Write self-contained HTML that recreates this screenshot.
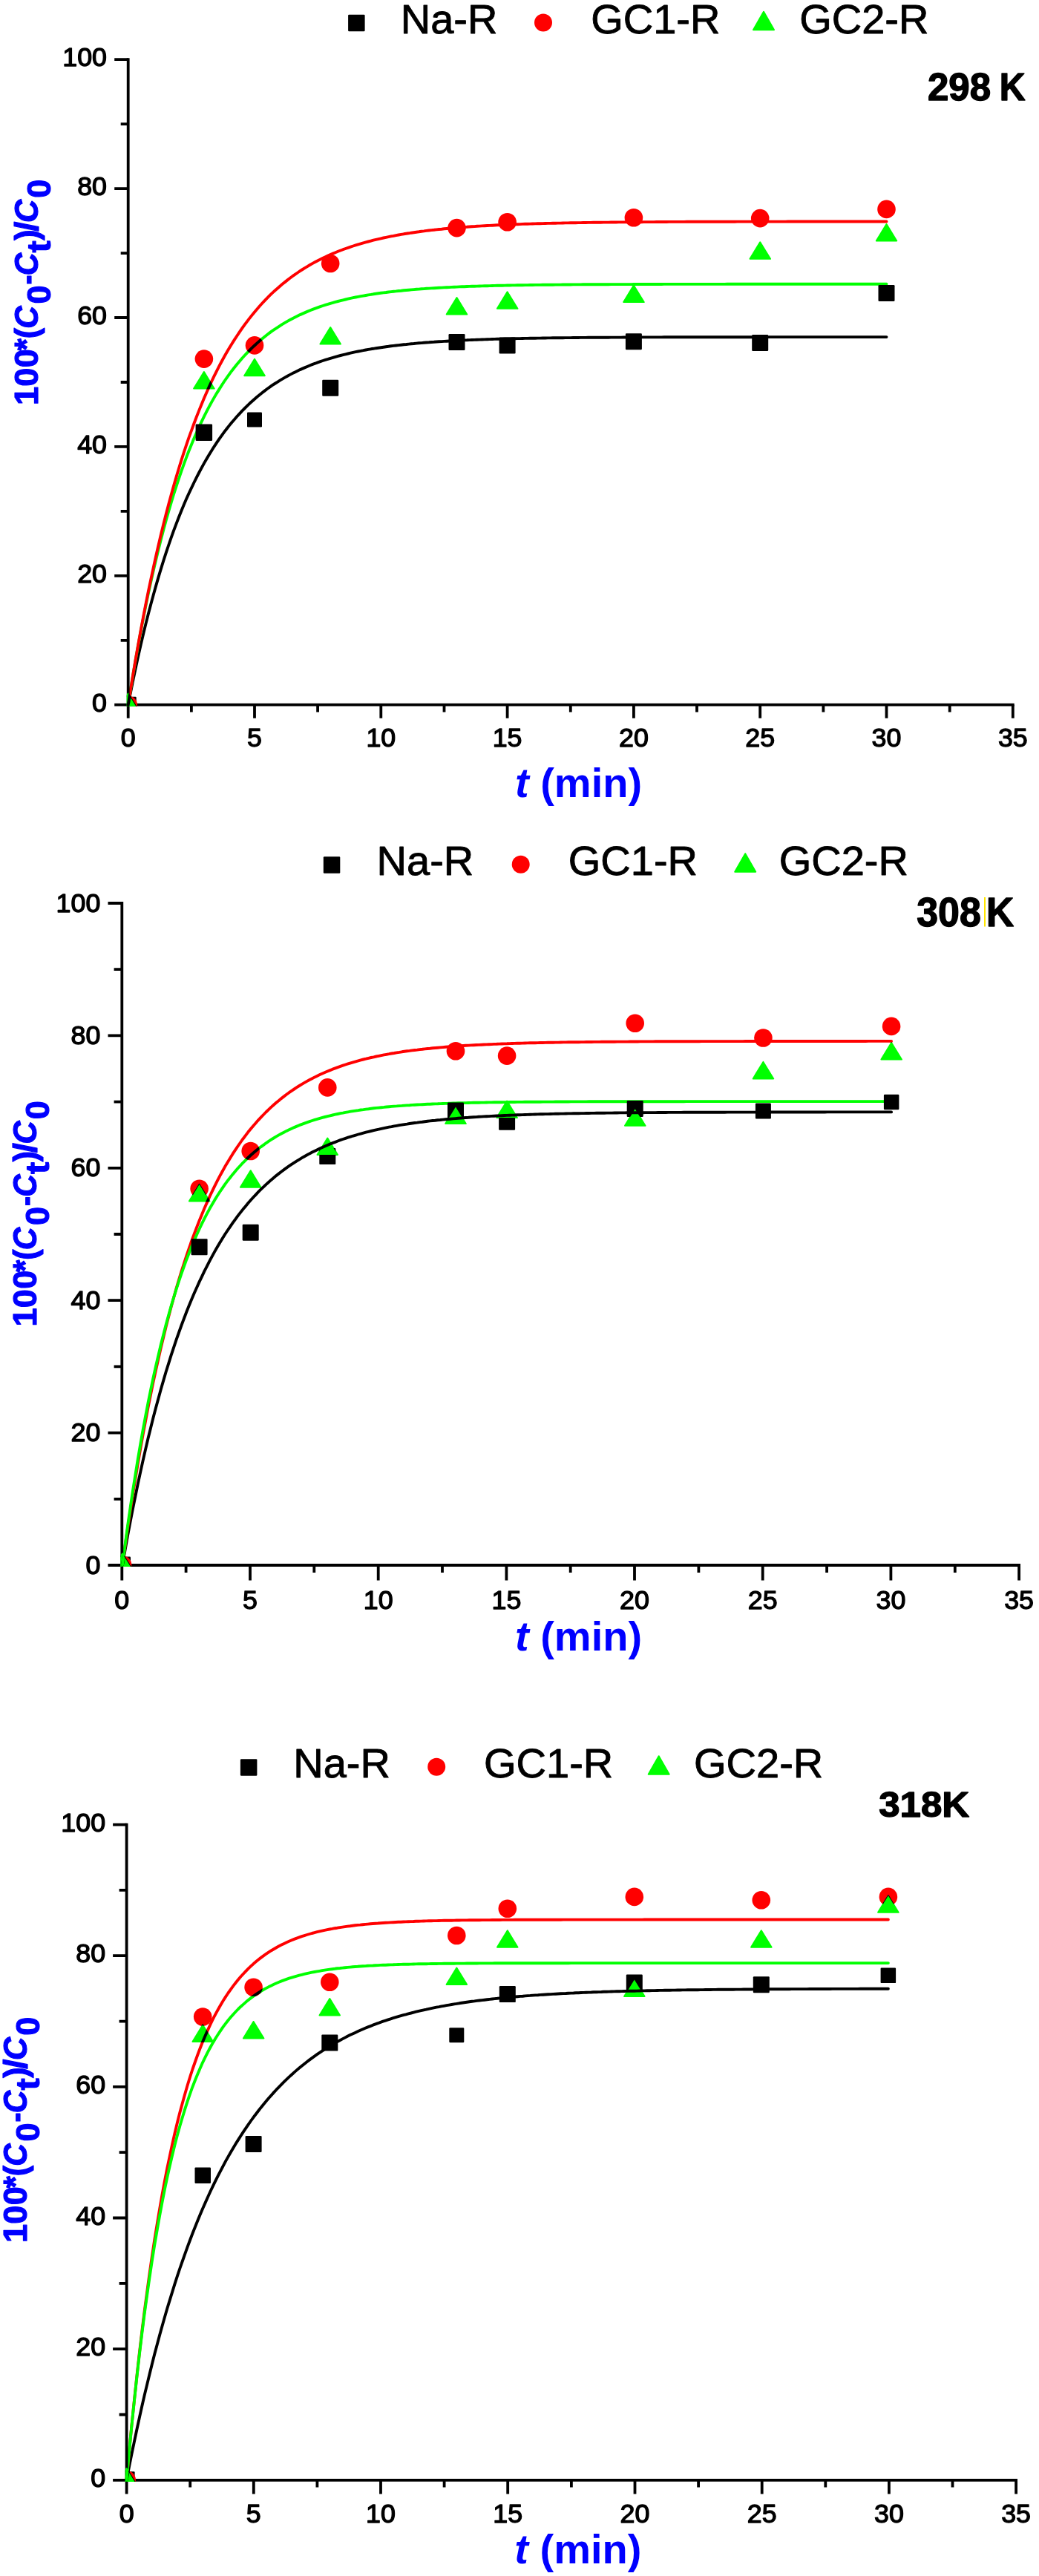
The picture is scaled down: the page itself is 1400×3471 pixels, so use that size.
<!DOCTYPE html>
<html><head><meta charset="utf-8"><title>Adsorption kinetics</title>
<style>
html,body{margin:0;padding:0;background:#fff;}
svg{display:block;}
text{font-family:"Liberation Sans", Arial, Helvetica, sans-serif;}
.tk{fill:#000;stroke:#000;stroke-width:1.35px;stroke-linejoin:round;}
.lg{fill:#000;font-size:56px;stroke:#000;stroke-width:0.9px;stroke-linejoin:round;}
.tp{fill:#000;font-weight:bold;stroke:#000;stroke-width:1.4px;stroke-linejoin:round;}
.xl{fill:#0000ff;font-weight:bold;font-size:56px;}
.yl text{fill:#0000ff;font-weight:bold;stroke:#0000ff;stroke-width:1.2px;stroke-linejoin:round;}
</style></head><body>
<svg width="1400" height="3471" viewBox="0 0 1400 3471">
<rect width="1400" height="3471" fill="#fff"/>
<path d="M172.7 78.3 V951.6" stroke="#000" stroke-width="3.8" fill="none"/>
<path d="M170.8 949.7 H1366.7" stroke="#000" stroke-width="3.8" fill="none"/>
<path d="M172.7 949.7 h-18.5 M172.7 862.8 h-10.0 M172.7 775.8 h-18.5 M172.7 688.9 h-10.0 M172.7 601.9 h-18.5 M172.7 515.0 h-10.0 M172.7 428.0 h-18.5 M172.7 341.1 h-10.0 M172.7 254.1 h-18.5 M172.7 167.1 h-10.0 M172.7 80.2 h-18.5 M172.7 949.7 v18.0 M257.9 949.7 v9.7 M343.0 949.7 v18.0 M428.1 949.7 v9.7 M513.3 949.7 v18.0 M598.5 949.7 v9.7 M683.6 949.7 v18.0 M768.8 949.7 v9.7 M853.9 949.7 v18.0 M939.0 949.7 v9.7 M1024.2 949.7 v18.0 M1109.4 949.7 v9.7 M1194.5 949.7 v18.0 M1279.7 949.7 v9.7 M1364.8 949.7 v18.0 " stroke="#000" stroke-width="3.8" fill="none"/>
<clipPath id="c1"><rect x="170.6" y="40.2" width="1300" height="911.6"/></clipPath><g clip-path="url(#c1)">
<rect x="161.7" y="938.7" width="22.0" height="22.0" rx="1.2" fill="#000"/>
<rect x="263.6" y="571.5" width="22.5" height="22.5" rx="1.2" fill="#000"/>
<rect x="333.0" y="555.4" width="20.0" height="20.0" rx="1.2" fill="#000"/>
<rect x="434.2" y="511.8" width="22.0" height="22.0" rx="1.2" fill="#000"/>
<rect x="604.5" y="450.0" width="22.0" height="22.0" rx="1.2" fill="#000"/>
<rect x="672.6" y="454.4" width="22.0" height="22.0" rx="1.2" fill="#000"/>
<rect x="842.9" y="449.2" width="22.0" height="22.0" rx="1.2" fill="#000"/>
<rect x="1013.2" y="450.9" width="22.0" height="22.0" rx="1.2" fill="#000"/>
<rect x="1183.5" y="384.0" width="22.0" height="22.0" rx="1.2" fill="#000"/>
<circle cx="172.7" cy="949.7" r="12.3" fill="#ff0000"/>
<circle cx="274.9" cy="483.6" r="12.3" fill="#ff0000"/>
<circle cx="343.0" cy="465.4" r="12.3" fill="#ff0000"/>
<circle cx="445.2" cy="355.0" r="12.3" fill="#ff0000"/>
<circle cx="615.5" cy="307.1" r="12.3" fill="#ff0000"/>
<circle cx="683.6" cy="299.3" r="12.3" fill="#ff0000"/>
<circle cx="853.9" cy="293.2" r="12.3" fill="#ff0000"/>
<circle cx="1024.2" cy="294.1" r="12.3" fill="#ff0000"/>
<circle cx="1194.5" cy="281.9" r="12.3" fill="#ff0000"/>
<path d="M172.7 934.5 L186.4 957.0 L158.9 957.0 Z" fill="#00ff00"/><path d="M172.7 934.5 L186.4 957.0 L158.9 957.0 Z" fill="none" stroke="#00ff00" stroke-width="2" stroke-linejoin="round" style="mix-blend-mode:multiply"/>
<path d="M274.9 501.1 L288.6 523.6 L261.1 523.6 Z" fill="#00ff00"/><path d="M274.9 501.1 L288.6 523.6 L261.1 523.6 Z" fill="none" stroke="#00ff00" stroke-width="2" stroke-linejoin="round" style="mix-blend-mode:multiply"/>
<path d="M343.0 483.7 L356.8 506.2 L329.2 506.2 Z" fill="#00ff00"/><path d="M343.0 483.7 L356.8 506.2 L329.2 506.2 Z" fill="none" stroke="#00ff00" stroke-width="2" stroke-linejoin="round" style="mix-blend-mode:multiply"/>
<path d="M445.2 441.1 L458.9 463.6 L431.4 463.6 Z" fill="#00ff00"/><path d="M445.2 441.1 L458.9 463.6 L431.4 463.6 Z" fill="none" stroke="#00ff00" stroke-width="2" stroke-linejoin="round" style="mix-blend-mode:multiply"/>
<path d="M615.5 401.1 L629.2 423.6 L601.7 423.6 Z" fill="#00ff00"/><path d="M615.5 401.1 L629.2 423.6 L601.7 423.6 Z" fill="none" stroke="#00ff00" stroke-width="2" stroke-linejoin="round" style="mix-blend-mode:multiply"/>
<path d="M683.6 393.3 L697.4 415.8 L669.9 415.8 Z" fill="#00ff00"/><path d="M683.6 393.3 L697.4 415.8 L669.9 415.8 Z" fill="none" stroke="#00ff00" stroke-width="2" stroke-linejoin="round" style="mix-blend-mode:multiply"/>
<path d="M853.9 384.6 L867.7 407.1 L840.2 407.1 Z" fill="#00ff00"/><path d="M853.9 384.6 L867.7 407.1 L840.2 407.1 Z" fill="none" stroke="#00ff00" stroke-width="2" stroke-linejoin="round" style="mix-blend-mode:multiply"/>
<path d="M1024.2 326.3 L1038.0 348.8 L1010.5 348.8 Z" fill="#00ff00"/><path d="M1024.2 326.3 L1038.0 348.8 L1010.5 348.8 Z" fill="none" stroke="#00ff00" stroke-width="2" stroke-linejoin="round" style="mix-blend-mode:multiply"/>
<path d="M1194.5 302.0 L1208.2 324.5 L1180.8 324.5 Z" fill="#00ff00"/><path d="M1194.5 302.0 L1208.2 324.5 L1180.8 324.5 Z" fill="none" stroke="#00ff00" stroke-width="2" stroke-linejoin="round" style="mix-blend-mode:multiply"/>
</g>
<g style="mix-blend-mode:multiply">
<polyline points="172.7,949.7 176.1,932.4 179.5,915.6 182.9,899.5 186.3,883.9 189.7,868.9 193.1,854.4 196.5,840.4 199.9,826.9 203.4,813.8 206.8,801.2 210.2,789.1 213.6,777.4 217.0,766.1 220.4,755.2 223.8,744.6 227.2,734.5 230.6,724.7 234.0,715.2 237.4,706.1 240.8,697.3 244.2,688.8 247.6,680.6 251.0,672.6 254.4,665.0 257.9,657.6 261.3,650.5 264.7,643.6 268.1,637.0 271.5,630.6 274.9,624.4 278.3,618.5 281.7,612.7 285.1,607.2 288.5,601.8 291.9,596.7 295.3,591.7 298.7,586.9 302.1,582.2 305.5,577.7 308.9,573.4 312.3,569.2 315.8,565.2 319.2,561.3 322.6,557.6 326.0,553.9 329.4,550.5 332.8,547.1 336.2,543.8 339.6,540.7 343.0,537.7 346.4,534.7 349.8,531.9 353.2,529.2 356.6,526.6 360.0,524.0 363.4,521.6 366.8,519.2 370.2,517.0 373.7,514.8 377.1,512.6 380.5,510.6 383.9,508.6 387.3,506.7 390.7,504.9 394.1,503.1 397.5,501.4 400.9,499.7 404.3,498.1 407.7,496.6 411.1,495.1 414.5,493.7 417.9,492.3 421.3,490.9 424.7,489.7 428.1,488.4 431.6,487.2 435.0,486.0 438.4,484.9 441.8,483.9 445.2,482.8 448.6,481.8 452.0,480.8 455.4,479.9 458.8,479.0 462.2,478.1 465.6,477.3 469.0,476.5 472.4,475.7 475.8,474.9 479.2,474.2 482.6,473.5 486.1,472.8 489.5,472.2 492.9,471.5 496.3,470.9 499.7,470.3 503.1,469.8 506.5,469.2 509.9,468.7 513.3,468.2 516.7,467.7 520.1,467.2 523.5,466.8 526.9,466.3 530.3,465.9 533.7,465.5 537.1,465.1 540.5,464.7 544.0,464.3 547.4,464.0 550.8,463.6 554.2,463.3 557.6,463.0 561.0,462.6 564.4,462.3 567.8,462.1 571.2,461.8 574.6,461.5 578.0,461.3 581.4,461.0 584.8,460.8 588.2,460.5 591.6,460.3 595.0,460.1 598.5,459.9 601.9,459.7 605.3,459.5 608.7,459.3 612.1,459.1 615.5,458.9 618.9,458.8 622.3,458.6 625.7,458.4 629.1,458.3 632.5,458.1 635.9,458.0 639.3,457.9 642.7,457.7 646.1,457.6 649.5,457.5 652.9,457.4 656.4,457.2 659.8,457.1 663.2,457.0 666.6,456.9 670.0,456.8 673.4,456.7 676.8,456.6 680.2,456.5 683.6,456.5 687.0,456.4 690.4,456.3 693.8,456.2 697.2,456.1 700.6,456.1 704.0,456.0 707.4,455.9 710.8,455.9 714.3,455.8 717.7,455.7 721.1,455.7 724.5,455.6 727.9,455.6 731.3,455.5 734.7,455.5 738.1,455.4 741.5,455.4 744.9,455.3 748.3,455.3 751.7,455.3 755.1,455.2 758.5,455.2 761.9,455.1 765.3,455.1 768.8,455.1 772.2,455.0 775.6,455.0 779.0,455.0 782.4,454.9 785.8,454.9 789.2,454.9 792.6,454.8 796.0,454.8 799.4,454.8 802.8,454.8 806.2,454.7 809.6,454.7 813.0,454.7 816.4,454.7 819.8,454.7 823.2,454.6 826.7,454.6 830.1,454.6 833.5,454.6 836.9,454.6 840.3,454.5 843.7,454.5 847.1,454.5 850.5,454.5 853.9,454.5 857.3,454.5 860.7,454.5 864.1,454.4 867.5,454.4 870.9,454.4 874.3,454.4 877.7,454.4 881.1,454.4 884.6,454.4 888.0,454.4 891.4,454.4 894.8,454.3 898.2,454.3 901.6,454.3 905.0,454.3 908.4,454.3 911.8,454.3 915.2,454.3 918.6,454.3 922.0,454.3 925.4,454.3 928.8,454.3 932.2,454.3 935.6,454.3 939.0,454.2 942.5,454.2 945.9,454.2 949.3,454.2 952.7,454.2 956.1,454.2 959.5,454.2 962.9,454.2 966.3,454.2 969.7,454.2 973.1,454.2 976.5,454.2 979.9,454.2 983.3,454.2 986.7,454.2 990.1,454.2 993.5,454.2 997.0,454.2 1000.4,454.2 1003.8,454.2 1007.2,454.2 1010.6,454.2 1014.0,454.2 1017.4,454.2 1020.8,454.2 1024.2,454.2 1027.6,454.2 1031.0,454.1 1034.4,454.1 1037.8,454.1 1041.2,454.1 1044.6,454.1 1048.0,454.1 1051.4,454.1 1054.9,454.1 1058.3,454.1 1061.7,454.1 1065.1,454.1 1068.5,454.1 1071.9,454.1 1075.3,454.1 1078.7,454.1 1082.1,454.1 1085.5,454.1 1088.9,454.1 1092.3,454.1 1095.7,454.1 1099.1,454.1 1102.5,454.1 1105.9,454.1 1109.4,454.1 1112.8,454.1 1116.2,454.1 1119.6,454.1 1123.0,454.1 1126.4,454.1 1129.8,454.1 1133.2,454.1 1136.6,454.1 1140.0,454.1 1143.4,454.1 1146.8,454.1 1150.2,454.1 1153.6,454.1 1157.0,454.1 1160.4,454.1 1163.8,454.1 1167.3,454.1 1170.7,454.1 1174.1,454.1 1177.5,454.1 1180.9,454.1 1184.3,454.1 1187.7,454.1 1191.1,454.1 1194.5,454.1" fill="none" stroke="#000" stroke-width="3.9" stroke-linejoin="round" stroke-linecap="round"/>
<polyline points="172.7,949.7 176.1,928.3 179.5,907.7 182.9,887.9 186.3,868.8 189.7,850.4 193.1,832.8 196.5,815.8 199.9,799.4 203.4,783.7 206.8,768.5 210.2,754.0 213.6,740.0 217.0,726.5 220.4,713.5 223.8,701.0 227.2,689.0 230.6,677.4 234.0,666.3 237.4,655.6 240.8,645.3 244.2,635.4 247.6,625.8 251.0,616.6 254.4,607.8 257.9,599.3 261.3,591.1 264.7,583.3 268.1,575.7 271.5,568.4 274.9,561.4 278.3,554.7 281.7,548.2 285.1,541.9 288.5,535.9 291.9,530.1 295.3,524.6 298.7,519.2 302.1,514.0 305.5,509.1 308.9,504.3 312.3,499.7 315.8,495.3 319.2,491.1 322.6,487.0 326.0,483.0 329.4,479.3 332.8,475.6 336.2,472.1 339.6,468.7 343.0,465.5 346.4,462.4 349.8,459.4 353.2,456.5 356.6,453.7 360.0,451.0 363.4,448.4 366.8,445.9 370.2,443.6 373.7,441.3 377.1,439.1 380.5,436.9 383.9,434.9 387.3,432.9 390.7,431.0 394.1,429.2 397.5,427.5 400.9,425.8 404.3,424.1 407.7,422.6 411.1,421.1 414.5,419.6 417.9,418.2 421.3,416.9 424.7,415.6 428.1,414.4 431.6,413.2 435.0,412.0 438.4,410.9 441.8,409.9 445.2,408.8 448.6,407.9 452.0,406.9 455.4,406.0 458.8,405.1 462.2,404.3 465.6,403.5 469.0,402.7 472.4,401.9 475.8,401.2 479.2,400.5 482.6,399.8 486.1,399.2 489.5,398.6 492.9,398.0 496.3,397.4 499.7,396.9 503.1,396.3 506.5,395.8 509.9,395.3 513.3,394.8 516.7,394.4 520.1,394.0 523.5,393.5 526.9,393.1 530.3,392.7 533.7,392.4 537.1,392.0 540.5,391.7 544.0,391.3 547.4,391.0 550.8,390.7 554.2,390.4 557.6,390.1 561.0,389.8 564.4,389.6 567.8,389.3 571.2,389.1 574.6,388.8 578.0,388.6 581.4,388.4 584.8,388.2 588.2,388.0 591.6,387.8 595.0,387.6 598.5,387.4 601.9,387.2 605.3,387.1 608.7,386.9 612.1,386.7 615.5,386.6 618.9,386.4 622.3,386.3 625.7,386.2 629.1,386.0 632.5,385.9 635.9,385.8 639.3,385.7 642.7,385.6 646.1,385.5 649.5,385.4 652.9,385.3 656.4,385.2 659.8,385.1 663.2,385.0 666.6,384.9 670.0,384.8 673.4,384.8 676.8,384.7 680.2,384.6 683.6,384.5 687.0,384.5 690.4,384.4 693.8,384.4 697.2,384.3 700.6,384.2 704.0,384.2 707.4,384.1 710.8,384.1 714.3,384.0 717.7,384.0 721.1,383.9 724.5,383.9 727.9,383.9 731.3,383.8 734.7,383.8 738.1,383.7 741.5,383.7 744.9,383.7 748.3,383.6 751.7,383.6 755.1,383.6 758.5,383.5 761.9,383.5 765.3,383.5 768.8,383.5 772.2,383.4 775.6,383.4 779.0,383.4 782.4,383.4 785.8,383.3 789.2,383.3 792.6,383.3 796.0,383.3 799.4,383.3 802.8,383.2 806.2,383.2 809.6,383.2 813.0,383.2 816.4,383.2 819.8,383.2 823.2,383.1 826.7,383.1 830.1,383.1 833.5,383.1 836.9,383.1 840.3,383.1 843.7,383.1 847.1,383.1 850.5,383.1 853.9,383.0 857.3,383.0 860.7,383.0 864.1,383.0 867.5,383.0 870.9,383.0 874.3,383.0 877.7,383.0 881.1,383.0 884.6,383.0 888.0,383.0 891.4,383.0 894.8,382.9 898.2,382.9 901.6,382.9 905.0,382.9 908.4,382.9 911.8,382.9 915.2,382.9 918.6,382.9 922.0,382.9 925.4,382.9 928.8,382.9 932.2,382.9 935.6,382.9 939.0,382.9 942.5,382.9 945.9,382.9 949.3,382.9 952.7,382.9 956.1,382.9 959.5,382.9 962.9,382.9 966.3,382.9 969.7,382.9 973.1,382.9 976.5,382.9 979.9,382.8 983.3,382.8 986.7,382.8 990.1,382.8 993.5,382.8 997.0,382.8 1000.4,382.8 1003.8,382.8 1007.2,382.8 1010.6,382.8 1014.0,382.8 1017.4,382.8 1020.8,382.8 1024.2,382.8 1027.6,382.8 1031.0,382.8 1034.4,382.8 1037.8,382.8 1041.2,382.8 1044.6,382.8 1048.0,382.8 1051.4,382.8 1054.9,382.8 1058.3,382.8 1061.7,382.8 1065.1,382.8 1068.5,382.8 1071.9,382.8 1075.3,382.8 1078.7,382.8 1082.1,382.8 1085.5,382.8 1088.9,382.8 1092.3,382.8 1095.7,382.8 1099.1,382.8 1102.5,382.8 1105.9,382.8 1109.4,382.8 1112.8,382.8 1116.2,382.8 1119.6,382.8 1123.0,382.8 1126.4,382.8 1129.8,382.8 1133.2,382.8 1136.6,382.8 1140.0,382.8 1143.4,382.8 1146.8,382.8 1150.2,382.8 1153.6,382.8 1157.0,382.8 1160.4,382.8 1163.8,382.8 1167.3,382.8 1170.7,382.8 1174.1,382.8 1177.5,382.8 1180.9,382.8 1184.3,382.8 1187.7,382.8 1191.1,382.8 1194.5,382.8" fill="none" stroke="#00ff00" stroke-width="3.9" stroke-linejoin="round" stroke-linecap="round"/>
<polyline points="172.7,949.7 176.1,928.2 179.5,907.5 182.9,887.4 186.3,868.0 189.7,849.3 193.1,831.1 196.5,813.6 199.9,796.6 203.4,780.2 206.8,764.3 210.2,749.0 213.6,734.1 217.0,719.8 220.4,705.9 223.8,692.5 227.2,679.5 230.6,666.9 234.0,654.8 237.4,643.1 240.8,631.7 244.2,620.7 247.6,610.1 251.0,599.8 254.4,589.9 257.9,580.3 261.3,571.0 264.7,562.0 268.1,553.4 271.5,545.0 274.9,536.8 278.3,529.0 281.7,521.4 285.1,514.0 288.5,506.9 291.9,500.1 295.3,493.4 298.7,487.0 302.1,480.8 305.5,474.8 308.9,469.0 312.3,463.4 315.8,457.9 319.2,452.7 322.6,447.6 326.0,442.7 329.4,437.9 332.8,433.3 336.2,428.9 339.6,424.6 343.0,420.4 346.4,416.4 349.8,412.5 353.2,408.8 356.6,405.1 360.0,401.6 363.4,398.2 366.8,394.9 370.2,391.8 373.7,388.7 377.1,385.7 380.5,382.8 383.9,380.1 387.3,377.4 390.7,374.8 394.1,372.2 397.5,369.8 400.9,367.5 404.3,365.2 407.7,363.0 411.1,360.9 414.5,358.8 417.9,356.8 421.3,354.9 424.7,353.0 428.1,351.2 431.6,349.5 435.0,347.8 438.4,346.2 441.8,344.6 445.2,343.1 448.6,341.6 452.0,340.2 455.4,338.8 458.8,337.5 462.2,336.2 465.6,335.0 469.0,333.8 472.4,332.6 475.8,331.5 479.2,330.4 482.6,329.3 486.1,328.3 489.5,327.3 492.9,326.4 496.3,325.5 499.7,324.6 503.1,323.7 506.5,322.9 509.9,322.1 513.3,321.3 516.7,320.5 520.1,319.8 523.5,319.1 526.9,318.4 530.3,317.8 533.7,317.1 537.1,316.5 540.5,315.9 544.0,315.3 547.4,314.8 550.8,314.3 554.2,313.7 557.6,313.2 561.0,312.7 564.4,312.3 567.8,311.8 571.2,311.4 574.6,310.9 578.0,310.5 581.4,310.1 584.8,309.8 588.2,309.4 591.6,309.0 595.0,308.7 598.5,308.3 601.9,308.0 605.3,307.7 608.7,307.4 612.1,307.1 615.5,306.8 618.9,306.5 622.3,306.3 625.7,306.0 629.1,305.8 632.5,305.5 635.9,305.3 639.3,305.1 642.7,304.8 646.1,304.6 649.5,304.4 652.9,304.2 656.4,304.0 659.8,303.9 663.2,303.7 666.6,303.5 670.0,303.3 673.4,303.2 676.8,303.0 680.2,302.9 683.6,302.7 687.0,302.6 690.4,302.4 693.8,302.3 697.2,302.2 700.6,302.1 704.0,301.9 707.4,301.8 710.8,301.7 714.3,301.6 717.7,301.5 721.1,301.4 724.5,301.3 727.9,301.2 731.3,301.1 734.7,301.0 738.1,300.9 741.5,300.9 744.9,300.8 748.3,300.7 751.7,300.6 755.1,300.6 758.5,300.5 761.9,300.4 765.3,300.4 768.8,300.3 772.2,300.2 775.6,300.2 779.0,300.1 782.4,300.1 785.8,300.0 789.2,300.0 792.6,299.9 796.0,299.9 799.4,299.8 802.8,299.8 806.2,299.7 809.6,299.7 813.0,299.6 816.4,299.6 819.8,299.6 823.2,299.5 826.7,299.5 830.1,299.5 833.5,299.4 836.9,299.4 840.3,299.4 843.7,299.3 847.1,299.3 850.5,299.3 853.9,299.2 857.3,299.2 860.7,299.2 864.1,299.2 867.5,299.1 870.9,299.1 874.3,299.1 877.7,299.1 881.1,299.1 884.6,299.0 888.0,299.0 891.4,299.0 894.8,299.0 898.2,299.0 901.6,298.9 905.0,298.9 908.4,298.9 911.8,298.9 915.2,298.9 918.6,298.9 922.0,298.9 925.4,298.8 928.8,298.8 932.2,298.8 935.6,298.8 939.0,298.8 942.5,298.8 945.9,298.8 949.3,298.8 952.7,298.7 956.1,298.7 959.5,298.7 962.9,298.7 966.3,298.7 969.7,298.7 973.1,298.7 976.5,298.7 979.9,298.7 983.3,298.7 986.7,298.7 990.1,298.7 993.5,298.6 997.0,298.6 1000.4,298.6 1003.8,298.6 1007.2,298.6 1010.6,298.6 1014.0,298.6 1017.4,298.6 1020.8,298.6 1024.2,298.6 1027.6,298.6 1031.0,298.6 1034.4,298.6 1037.8,298.6 1041.2,298.6 1044.6,298.6 1048.0,298.6 1051.4,298.6 1054.9,298.6 1058.3,298.6 1061.7,298.5 1065.1,298.5 1068.5,298.5 1071.9,298.5 1075.3,298.5 1078.7,298.5 1082.1,298.5 1085.5,298.5 1088.9,298.5 1092.3,298.5 1095.7,298.5 1099.1,298.5 1102.5,298.5 1105.9,298.5 1109.4,298.5 1112.8,298.5 1116.2,298.5 1119.6,298.5 1123.0,298.5 1126.4,298.5 1129.8,298.5 1133.2,298.5 1136.6,298.5 1140.0,298.5 1143.4,298.5 1146.8,298.5 1150.2,298.5 1153.6,298.5 1157.0,298.5 1160.4,298.5 1163.8,298.5 1167.3,298.5 1170.7,298.5 1174.1,298.5 1177.5,298.5 1180.9,298.5 1184.3,298.5 1187.7,298.5 1191.1,298.5 1194.5,298.5" fill="none" stroke="#ff0000" stroke-width="3.9" stroke-linejoin="round" stroke-linecap="round"/>
</g>
<text x="144.0" y="958.8" text-anchor="end" class="tk" font-size="35.8">0</text>
<text x="144.0" y="784.9" text-anchor="end" class="tk" font-size="35.8">20</text>
<text x="144.0" y="611.0" text-anchor="end" class="tk" font-size="35.8">40</text>
<text x="144.0" y="437.1" text-anchor="end" class="tk" font-size="35.8">60</text>
<text x="144.0" y="263.2" text-anchor="end" class="tk" font-size="35.8">80</text>
<text x="144.0" y="89.3" text-anchor="end" class="tk" font-size="35.8">100</text>
<text x="172.7" y="1006.3" text-anchor="middle" class="tk" font-size="35.8">0</text>
<text x="343.0" y="1006.3" text-anchor="middle" class="tk" font-size="35.8">5</text>
<text x="513.3" y="1006.3" text-anchor="middle" class="tk" font-size="35.8">10</text>
<text x="683.6" y="1006.3" text-anchor="middle" class="tk" font-size="35.8">15</text>
<text x="853.9" y="1006.3" text-anchor="middle" class="tk" font-size="35.8">20</text>
<text x="1024.2" y="1006.3" text-anchor="middle" class="tk" font-size="35.8">25</text>
<text x="1194.5" y="1006.3" text-anchor="middle" class="tk" font-size="35.8">30</text>
<text x="1364.8" y="1006.3" text-anchor="middle" class="tk" font-size="35.8">35</text>
<text x="694" y="1074.2" class="xl"><tspan font-style="italic">t</tspan> (min)</text>
<g transform="translate(51.2,543.5) rotate(-90)" class="yl" font-size="45"><text x="-2.6" y="0" letter-spacing="0.4">100</text><text transform="translate(71.1,0) scale(0.93,1)">*</text><text transform="translate(87.2,0) scale(0.95,1)">(</text><text transform="translate(100.8,0) scale(0.94,1)" font-style="italic">C</text><text transform="translate(133.9,17) scale(1,1)">0</text><text transform="translate(159.9,0) scale(0.88,1)">-</text><text transform="translate(172.3,0) scale(0.94,1)" font-style="italic">C</text><text transform="translate(202.9,17) scale(1.08,1)">t</text><text transform="translate(219.8,0) scale(0.95,1)">)</text><text transform="translate(231.8,0) scale(1.05,1)">/</text><text transform="translate(243.6,0) scale(0.96,1)" font-style="italic">C</text><text transform="translate(276.7,17) scale(1,1)">0</text></g>
<rect x="469.1" y="19.8" width="22.5" height="22.5" rx="1.2" fill="#000"/>
<text x="539.7" y="45" class="lg">Na-R</text>
<circle cx="732.0" cy="30.4" r="12.0" fill="#ff0000"/>
<text x="796.2" y="45" class="lg">GC1-R</text>
<path d="M1029.0 15.8 L1043.0 40.2 L1015.0 40.2 Z" fill="#00ff00"/><path d="M1029.0 15.8 L1043.0 40.2 L1015.0 40.2 Z" fill="none" stroke="#00ff00" stroke-width="2" stroke-linejoin="round" style="mix-blend-mode:multiply"/>
<text x="1077.2" y="45" class="lg">GC2-R</text>
<text x="1250" y="134.6" class="tp" font-size="51">298</text>
<text x="1346.8" y="134.6" class="tp" font-size="51" textLength="34.8" lengthAdjust="spacingAndGlyphs">K</text>
<path d="M164.3 1215.1 V2110.9" stroke="#000" stroke-width="3.8" fill="none"/>
<path d="M162.4 2109.0 H1375.0" stroke="#000" stroke-width="3.8" fill="none"/>
<path d="M164.3 2109.0 h-18.8 M164.3 2019.8 h-10.7 M164.3 1930.6 h-18.8 M164.3 1841.4 h-10.7 M164.3 1752.2 h-18.8 M164.3 1663.0 h-10.7 M164.3 1573.8 h-18.8 M164.3 1484.6 h-10.7 M164.3 1395.4 h-18.8 M164.3 1306.2 h-10.7 M164.3 1217.0 h-18.8 M164.3 2109.0 v20.6 M250.6 2109.0 v9.9 M337.0 2109.0 v20.6 M423.3 2109.0 v9.9 M509.7 2109.0 v20.6 M596.0 2109.0 v9.9 M682.4 2109.0 v20.6 M768.7 2109.0 v9.9 M855.0 2109.0 v20.6 M941.4 2109.0 v9.9 M1027.7 2109.0 v20.6 M1114.1 2109.0 v9.9 M1200.4 2109.0 v20.6 M1286.8 2109.0 v9.9 M1373.1 2109.0 v20.6 " stroke="#000" stroke-width="3.8" fill="none"/>
<clipPath id="c2"><rect x="162.2" y="1177.0" width="1300" height="934.1"/></clipPath><g clip-path="url(#c2)">
<rect x="154.0" y="2097.5" width="22.0" height="22.0" rx="1.2" fill="#000"/>
<rect x="257.6" y="1669.3" width="22.0" height="22.0" rx="1.2" fill="#000"/>
<rect x="326.7" y="1649.7" width="22.0" height="22.0" rx="1.2" fill="#000"/>
<rect x="430.3" y="1547.1" width="22.0" height="22.0" rx="1.2" fill="#000"/>
<rect x="603.0" y="1485.6" width="22.0" height="22.0" rx="1.2" fill="#000"/>
<rect x="672.1" y="1500.8" width="22.0" height="22.0" rx="1.2" fill="#000"/>
<rect x="844.7" y="1482.9" width="22.0" height="22.0" rx="1.2" fill="#000"/>
<rect x="1017.9" y="1486.4" width="21.0" height="21.0" rx="1.2" fill="#000"/>
<rect x="1190.9" y="1474.7" width="20.5" height="20.5" rx="1.2" fill="#000"/>
<circle cx="165.0" cy="2108.5" r="12.3" fill="#ff0000"/>
<circle cx="268.6" cy="1601.8" r="12.3" fill="#ff0000"/>
<circle cx="337.7" cy="1551.0" r="12.3" fill="#ff0000"/>
<circle cx="441.3" cy="1465.4" r="12.3" fill="#ff0000"/>
<circle cx="614.0" cy="1416.3" r="12.3" fill="#ff0000"/>
<circle cx="683.1" cy="1422.6" r="12.3" fill="#ff0000"/>
<circle cx="855.7" cy="1378.8" r="12.3" fill="#ff0000"/>
<circle cx="1028.4" cy="1398.5" r="12.3" fill="#ff0000"/>
<circle cx="1201.1" cy="1382.9" r="12.3" fill="#ff0000"/>
<path d="M165.0 2093.2 L178.8 2115.7 L151.2 2115.7 Z" fill="#00ff00"/><path d="M165.0 2093.2 L178.8 2115.7 L151.2 2115.7 Z" fill="none" stroke="#00ff00" stroke-width="2" stroke-linejoin="round" style="mix-blend-mode:multiply"/>
<path d="M268.6 1595.9 L282.4 1618.4 L254.9 1618.4 Z" fill="#00ff00"/><path d="M268.6 1595.9 L282.4 1618.4 L254.9 1618.4 Z" fill="none" stroke="#00ff00" stroke-width="2" stroke-linejoin="round" style="mix-blend-mode:multiply"/>
<path d="M337.7 1577.2 L351.4 1599.7 L323.9 1599.7 Z" fill="#00ff00"/><path d="M337.7 1577.2 L351.4 1599.7 L323.9 1599.7 Z" fill="none" stroke="#00ff00" stroke-width="2" stroke-linejoin="round" style="mix-blend-mode:multiply"/>
<path d="M441.3 1533.5 L455.0 1556.0 L427.5 1556.0 Z" fill="#00ff00"/><path d="M441.3 1533.5 L455.0 1556.0 L427.5 1556.0 Z" fill="none" stroke="#00ff00" stroke-width="2" stroke-linejoin="round" style="mix-blend-mode:multiply"/>
<path d="M614.0 1491.6 L627.7 1514.1 L600.2 1514.1 Z" fill="#00ff00"/><path d="M614.0 1491.6 L627.7 1514.1 L600.2 1514.1 Z" fill="none" stroke="#00ff00" stroke-width="2" stroke-linejoin="round" style="mix-blend-mode:multiply"/>
<path d="M683.1 1483.6 L696.8 1506.1 L669.3 1506.1 Z" fill="#00ff00"/><path d="M683.1 1483.6 L696.8 1506.1 L669.3 1506.1 Z" fill="none" stroke="#00ff00" stroke-width="2" stroke-linejoin="round" style="mix-blend-mode:multiply"/>
<path d="M855.7 1494.3 L869.5 1516.8 L842.0 1516.8 Z" fill="#00ff00"/><path d="M855.7 1494.3 L869.5 1516.8 L842.0 1516.8 Z" fill="none" stroke="#00ff00" stroke-width="2" stroke-linejoin="round" style="mix-blend-mode:multiply"/>
<path d="M1028.4 1430.9 L1042.2 1453.4 L1014.7 1453.4 Z" fill="#00ff00"/><path d="M1028.4 1430.9 L1042.2 1453.4 L1014.7 1453.4 Z" fill="none" stroke="#00ff00" stroke-width="2" stroke-linejoin="round" style="mix-blend-mode:multiply"/>
<path d="M1201.1 1405.1 L1214.9 1427.6 L1187.4 1427.6 Z" fill="#00ff00"/><path d="M1201.1 1405.1 L1214.9 1427.6 L1187.4 1427.6 Z" fill="none" stroke="#00ff00" stroke-width="2" stroke-linejoin="round" style="mix-blend-mode:multiply"/>
</g>
<g style="mix-blend-mode:multiply">
<polyline points="165.0,2108.5 168.5,2088.9 171.9,2069.9 175.4,2051.5 178.8,2033.7 182.3,2016.5 185.7,1999.8 189.2,1983.7 192.6,1968.1 196.1,1952.9 199.5,1938.3 203.0,1924.2 206.4,1910.5 209.9,1897.2 213.4,1884.4 216.8,1872.0 220.3,1859.9 223.7,1848.3 227.2,1837.1 230.6,1826.2 234.1,1815.6 237.5,1805.4 241.0,1795.5 244.4,1786.0 247.9,1776.7 251.3,1767.8 254.8,1759.1 258.2,1750.7 261.7,1742.6 265.2,1734.7 268.6,1727.1 272.1,1719.8 275.5,1712.6 279.0,1705.8 282.4,1699.1 285.9,1692.6 289.3,1686.4 292.8,1680.3 296.2,1674.5 299.7,1668.8 303.1,1663.3 306.6,1658.0 310.1,1652.9 313.5,1647.9 317.0,1643.1 320.4,1638.4 323.9,1633.9 327.3,1629.6 330.8,1625.4 334.2,1621.3 337.7,1617.3 341.1,1613.5 344.6,1609.8 348.0,1606.2 351.5,1602.7 355.0,1599.4 358.4,1596.1 361.9,1593.0 365.3,1589.9 368.8,1587.0 372.2,1584.1 375.7,1581.4 379.1,1578.7 382.6,1576.1 386.0,1573.6 389.5,1571.2 392.9,1568.9 396.4,1566.6 399.9,1564.4 403.3,1562.3 406.8,1560.2 410.2,1558.2 413.7,1556.3 417.1,1554.4 420.6,1552.6 424.0,1550.9 427.5,1549.2 430.9,1547.6 434.4,1546.0 437.8,1544.5 441.3,1543.0 444.7,1541.5 448.2,1540.1 451.7,1538.8 455.1,1537.5 458.6,1536.2 462.0,1535.0 465.5,1533.8 468.9,1532.7 472.4,1531.6 475.8,1530.5 479.3,1529.5 482.7,1528.5 486.2,1527.5 489.6,1526.6 493.1,1525.7 496.6,1524.8 500.0,1524.0 503.5,1523.1 506.9,1522.3 510.4,1521.6 513.8,1520.8 517.3,1520.1 520.7,1519.4 524.2,1518.7 527.6,1518.1 531.1,1517.4 534.5,1516.8 538.0,1516.2 541.5,1515.6 544.9,1515.1 548.4,1514.6 551.8,1514.0 555.3,1513.5 558.7,1513.0 562.2,1512.6 565.6,1512.1 569.1,1511.7 572.5,1511.2 576.0,1510.8 579.4,1510.4 582.9,1510.0 586.4,1509.7 589.8,1509.3 593.3,1509.0 596.7,1508.6 600.2,1508.3 603.6,1508.0 607.1,1507.7 610.5,1507.4 614.0,1507.1 617.4,1506.8 620.9,1506.5 624.3,1506.3 627.8,1506.0 631.2,1505.8 634.7,1505.5 638.2,1505.3 641.6,1505.1 645.1,1504.8 648.5,1504.6 652.0,1504.4 655.4,1504.2 658.9,1504.1 662.3,1503.9 665.8,1503.7 669.2,1503.5 672.7,1503.4 676.1,1503.2 679.6,1503.0 683.1,1502.9 686.5,1502.7 690.0,1502.6 693.4,1502.5 696.9,1502.3 700.3,1502.2 703.8,1502.1 707.2,1502.0 710.7,1501.9 714.1,1501.7 717.6,1501.6 721.0,1501.5 724.5,1501.4 728.0,1501.3 731.4,1501.2 734.9,1501.1 738.3,1501.1 741.8,1501.0 745.2,1500.9 748.7,1500.8 752.1,1500.7 755.6,1500.6 759.0,1500.6 762.5,1500.5 765.9,1500.4 769.4,1500.4 772.9,1500.3 776.3,1500.2 779.8,1500.2 783.2,1500.1 786.7,1500.1 790.1,1500.0 793.6,1500.0 797.0,1499.9 800.5,1499.9 803.9,1499.8 807.4,1499.8 810.8,1499.7 814.3,1499.7 817.7,1499.6 821.2,1499.6 824.7,1499.6 828.1,1499.5 831.6,1499.5 835.0,1499.4 838.5,1499.4 841.9,1499.4 845.4,1499.3 848.8,1499.3 852.3,1499.3 855.7,1499.3 859.2,1499.2 862.6,1499.2 866.1,1499.2 869.6,1499.1 873.0,1499.1 876.5,1499.1 879.9,1499.1 883.4,1499.1 886.8,1499.0 890.3,1499.0 893.7,1499.0 897.2,1499.0 900.6,1498.9 904.1,1498.9 907.5,1498.9 911.0,1498.9 914.5,1498.9 917.9,1498.9 921.4,1498.8 924.8,1498.8 928.3,1498.8 931.7,1498.8 935.2,1498.8 938.6,1498.8 942.1,1498.8 945.5,1498.7 949.0,1498.7 952.4,1498.7 955.9,1498.7 959.4,1498.7 962.8,1498.7 966.3,1498.7 969.7,1498.7 973.2,1498.7 976.6,1498.7 980.1,1498.6 983.5,1498.6 987.0,1498.6 990.4,1498.6 993.9,1498.6 997.3,1498.6 1000.8,1498.6 1004.2,1498.6 1007.7,1498.6 1011.2,1498.6 1014.6,1498.6 1018.1,1498.6 1021.5,1498.6 1025.0,1498.5 1028.4,1498.5 1031.9,1498.5 1035.3,1498.5 1038.8,1498.5 1042.2,1498.5 1045.7,1498.5 1049.1,1498.5 1052.6,1498.5 1056.1,1498.5 1059.5,1498.5 1063.0,1498.5 1066.4,1498.5 1069.9,1498.5 1073.3,1498.5 1076.8,1498.5 1080.2,1498.5 1083.7,1498.5 1087.1,1498.5 1090.6,1498.5 1094.0,1498.5 1097.5,1498.5 1101.0,1498.5 1104.4,1498.5 1107.9,1498.5 1111.3,1498.5 1114.8,1498.4 1118.2,1498.4 1121.7,1498.4 1125.1,1498.4 1128.6,1498.4 1132.0,1498.4 1135.5,1498.4 1138.9,1498.4 1142.4,1498.4 1145.9,1498.4 1149.3,1498.4 1152.8,1498.4 1156.2,1498.4 1159.7,1498.4 1163.1,1498.4 1166.6,1498.4 1170.0,1498.4 1173.5,1498.4 1176.9,1498.4 1180.4,1498.4 1183.8,1498.4 1187.3,1498.4 1190.7,1498.4 1194.2,1498.4 1197.7,1498.4 1201.1,1498.4" fill="none" stroke="#000" stroke-width="3.9" stroke-linejoin="round" stroke-linecap="round"/>
<polyline points="165.0,2108.5 168.5,2083.8 171.9,2059.9 175.4,2036.8 178.8,2014.6 182.3,1993.2 185.7,1972.5 189.2,1952.5 192.6,1933.2 196.1,1914.6 199.5,1896.7 203.0,1879.4 206.4,1862.6 209.9,1846.5 213.4,1831.0 216.8,1816.0 220.3,1801.5 223.7,1787.5 227.2,1774.0 230.6,1761.0 234.1,1748.4 237.5,1736.3 241.0,1724.6 244.4,1713.3 247.9,1702.5 251.3,1692.0 254.8,1681.8 258.2,1672.0 261.7,1662.6 265.2,1653.5 268.6,1644.7 272.1,1636.2 275.5,1628.0 279.0,1620.1 282.4,1612.5 285.9,1605.2 289.3,1598.1 292.8,1591.2 296.2,1584.6 299.7,1578.3 303.1,1572.1 306.6,1566.2 310.1,1560.5 313.5,1554.9 317.0,1549.6 320.4,1544.5 323.9,1539.5 327.3,1534.7 330.8,1530.1 334.2,1525.6 337.7,1521.3 341.1,1517.2 344.6,1513.2 348.0,1509.3 351.5,1505.6 355.0,1502.0 358.4,1498.5 361.9,1495.1 365.3,1491.9 368.8,1488.8 372.2,1485.8 375.7,1482.9 379.1,1480.1 382.6,1477.4 386.0,1474.8 389.5,1472.2 392.9,1469.8 396.4,1467.5 399.9,1465.2 403.3,1463.0 406.8,1460.9 410.2,1458.9 413.7,1456.9 417.1,1455.0 420.6,1453.2 424.0,1451.4 427.5,1449.7 430.9,1448.1 434.4,1446.5 437.8,1445.0 441.3,1443.5 444.7,1442.1 448.2,1440.7 451.7,1439.4 455.1,1438.1 458.6,1436.9 462.0,1435.7 465.5,1434.5 468.9,1433.4 472.4,1432.3 475.8,1431.3 479.3,1430.3 482.7,1429.4 486.2,1428.4 489.6,1427.5 493.1,1426.7 496.6,1425.8 500.0,1425.0 503.5,1424.3 506.9,1423.5 510.4,1422.8 513.8,1422.1 517.3,1421.4 520.7,1420.8 524.2,1420.2 527.6,1419.5 531.1,1419.0 534.5,1418.4 538.0,1417.9 541.5,1417.3 544.9,1416.8 548.4,1416.3 551.8,1415.9 555.3,1415.4 558.7,1415.0 562.2,1414.6 565.6,1414.1 569.1,1413.8 572.5,1413.4 576.0,1413.0 579.4,1412.7 582.9,1412.3 586.4,1412.0 589.8,1411.7 593.3,1411.4 596.7,1411.1 600.2,1410.8 603.6,1410.5 607.1,1410.2 610.5,1410.0 614.0,1409.7 617.4,1409.5 620.9,1409.3 624.3,1409.0 627.8,1408.8 631.2,1408.6 634.7,1408.4 638.2,1408.2 641.6,1408.0 645.1,1407.9 648.5,1407.7 652.0,1407.5 655.4,1407.4 658.9,1407.2 662.3,1407.1 665.8,1406.9 669.2,1406.8 672.7,1406.6 676.1,1406.5 679.6,1406.4 683.1,1406.3 686.5,1406.1 690.0,1406.0 693.4,1405.9 696.9,1405.8 700.3,1405.7 703.8,1405.6 707.2,1405.5 710.7,1405.4 714.1,1405.3 717.6,1405.3 721.0,1405.2 724.5,1405.1 728.0,1405.0 731.4,1405.0 734.9,1404.9 738.3,1404.8 741.8,1404.7 745.2,1404.7 748.7,1404.6 752.1,1404.6 755.6,1404.5 759.0,1404.4 762.5,1404.4 765.9,1404.3 769.4,1404.3 772.9,1404.2 776.3,1404.2 779.8,1404.2 783.2,1404.1 786.7,1404.1 790.1,1404.0 793.6,1404.0 797.0,1404.0 800.5,1403.9 803.9,1403.9 807.4,1403.9 810.8,1403.8 814.3,1403.8 817.7,1403.8 821.2,1403.7 824.7,1403.7 828.1,1403.7 831.6,1403.6 835.0,1403.6 838.5,1403.6 841.9,1403.6 845.4,1403.6 848.8,1403.5 852.3,1403.5 855.7,1403.5 859.2,1403.5 862.6,1403.4 866.1,1403.4 869.6,1403.4 873.0,1403.4 876.5,1403.4 879.9,1403.4 883.4,1403.3 886.8,1403.3 890.3,1403.3 893.7,1403.3 897.2,1403.3 900.6,1403.3 904.1,1403.3 907.5,1403.3 911.0,1403.2 914.5,1403.2 917.9,1403.2 921.4,1403.2 924.8,1403.2 928.3,1403.2 931.7,1403.2 935.2,1403.2 938.6,1403.2 942.1,1403.2 945.5,1403.1 949.0,1403.1 952.4,1403.1 955.9,1403.1 959.4,1403.1 962.8,1403.1 966.3,1403.1 969.7,1403.1 973.2,1403.1 976.6,1403.1 980.1,1403.1 983.5,1403.1 987.0,1403.1 990.4,1403.1 993.9,1403.1 997.3,1403.1 1000.8,1403.1 1004.2,1403.0 1007.7,1403.0 1011.2,1403.0 1014.6,1403.0 1018.1,1403.0 1021.5,1403.0 1025.0,1403.0 1028.4,1403.0 1031.9,1403.0 1035.3,1403.0 1038.8,1403.0 1042.2,1403.0 1045.7,1403.0 1049.1,1403.0 1052.6,1403.0 1056.1,1403.0 1059.5,1403.0 1063.0,1403.0 1066.4,1403.0 1069.9,1403.0 1073.3,1403.0 1076.8,1403.0 1080.2,1403.0 1083.7,1403.0 1087.1,1403.0 1090.6,1403.0 1094.0,1403.0 1097.5,1403.0 1101.0,1403.0 1104.4,1403.0 1107.9,1403.0 1111.3,1403.0 1114.8,1403.0 1118.2,1403.0 1121.7,1403.0 1125.1,1403.0 1128.6,1403.0 1132.0,1403.0 1135.5,1403.0 1138.9,1403.0 1142.4,1403.0 1145.9,1403.0 1149.3,1403.0 1152.8,1403.0 1156.2,1403.0 1159.7,1403.0 1163.1,1403.0 1166.6,1403.0 1170.0,1402.9 1173.5,1402.9 1176.9,1402.9 1180.4,1402.9 1183.8,1402.9 1187.3,1402.9 1190.7,1402.9 1194.2,1402.9 1197.7,1402.9 1201.1,1402.9" fill="none" stroke="#ff0000" stroke-width="3.9" stroke-linejoin="round" stroke-linecap="round"/>
<polyline points="165.0,2108.5 168.5,2082.2 171.9,2057.0 175.4,2032.9 178.8,2009.8 182.3,1987.7 185.7,1966.5 189.2,1946.2 192.6,1926.8 196.1,1908.1 199.5,1890.3 203.0,1873.2 206.4,1856.8 209.9,1841.1 213.4,1826.1 216.8,1811.7 220.3,1797.9 223.7,1784.7 227.2,1772.1 230.6,1759.9 234.1,1748.3 237.5,1737.2 241.0,1726.5 244.4,1716.3 247.9,1706.6 251.3,1697.2 254.8,1688.2 258.2,1679.6 261.7,1671.4 265.2,1663.5 268.6,1656.0 272.1,1648.7 275.5,1641.8 279.0,1635.2 282.4,1628.8 285.9,1622.7 289.3,1616.9 292.8,1611.3 296.2,1606.0 299.7,1600.8 303.1,1595.9 306.6,1591.2 310.1,1586.7 313.5,1582.4 317.0,1578.2 320.4,1574.3 323.9,1570.5 327.3,1566.8 330.8,1563.4 334.2,1560.0 337.7,1556.8 341.1,1553.8 344.6,1550.8 348.0,1548.0 351.5,1545.3 355.0,1542.8 358.4,1540.3 361.9,1537.9 365.3,1535.7 368.8,1533.5 372.2,1531.4 375.7,1529.4 379.1,1527.5 382.6,1525.7 386.0,1523.9 389.5,1522.3 392.9,1520.7 396.4,1519.1 399.9,1517.6 403.3,1516.2 406.8,1514.9 410.2,1513.6 413.7,1512.3 417.1,1511.2 420.6,1510.0 424.0,1508.9 427.5,1507.9 430.9,1506.9 434.4,1505.9 437.8,1505.0 441.3,1504.1 444.7,1503.3 448.2,1502.5 451.7,1501.7 455.1,1501.0 458.6,1500.2 462.0,1499.6 465.5,1498.9 468.9,1498.3 472.4,1497.7 475.8,1497.1 479.3,1496.6 482.7,1496.1 486.2,1495.5 489.6,1495.1 493.1,1494.6 496.6,1494.2 500.0,1493.7 503.5,1493.3 506.9,1492.9 510.4,1492.6 513.8,1492.2 517.3,1491.9 520.7,1491.5 524.2,1491.2 527.6,1490.9 531.1,1490.6 534.5,1490.4 538.0,1490.1 541.5,1489.9 544.9,1489.6 548.4,1489.4 551.8,1489.2 555.3,1488.9 558.7,1488.7 562.2,1488.5 565.6,1488.4 569.1,1488.2 572.5,1488.0 576.0,1487.8 579.4,1487.7 582.9,1487.5 586.4,1487.4 589.8,1487.3 593.3,1487.1 596.7,1487.0 600.2,1486.9 603.6,1486.8 607.1,1486.6 610.5,1486.5 614.0,1486.4 617.4,1486.3 620.9,1486.2 624.3,1486.1 627.8,1486.1 631.2,1486.0 634.7,1485.9 638.2,1485.8 641.6,1485.8 645.1,1485.7 648.5,1485.6 652.0,1485.6 655.4,1485.5 658.9,1485.4 662.3,1485.4 665.8,1485.3 669.2,1485.3 672.7,1485.2 676.1,1485.2 679.6,1485.1 683.1,1485.1 686.5,1485.0 690.0,1485.0 693.4,1485.0 696.9,1484.9 700.3,1484.9 703.8,1484.9 707.2,1484.8 710.7,1484.8 714.1,1484.8 717.6,1484.7 721.0,1484.7 724.5,1484.7 728.0,1484.7 731.4,1484.6 734.9,1484.6 738.3,1484.6 741.8,1484.6 745.2,1484.6 748.7,1484.5 752.1,1484.5 755.6,1484.5 759.0,1484.5 762.5,1484.5 765.9,1484.5 769.4,1484.4 772.9,1484.4 776.3,1484.4 779.8,1484.4 783.2,1484.4 786.7,1484.4 790.1,1484.4 793.6,1484.3 797.0,1484.3 800.5,1484.3 803.9,1484.3 807.4,1484.3 810.8,1484.3 814.3,1484.3 817.7,1484.3 821.2,1484.3 824.7,1484.3 828.1,1484.3 831.6,1484.3 835.0,1484.2 838.5,1484.2 841.9,1484.2 845.4,1484.2 848.8,1484.2 852.3,1484.2 855.7,1484.2 859.2,1484.2 862.6,1484.2 866.1,1484.2 869.6,1484.2 873.0,1484.2 876.5,1484.2 879.9,1484.2 883.4,1484.2 886.8,1484.2 890.3,1484.2 893.7,1484.2 897.2,1484.2 900.6,1484.2 904.1,1484.2 907.5,1484.2 911.0,1484.2 914.5,1484.2 917.9,1484.2 921.4,1484.2 924.8,1484.1 928.3,1484.1 931.7,1484.1 935.2,1484.1 938.6,1484.1 942.1,1484.1 945.5,1484.1 949.0,1484.1 952.4,1484.1 955.9,1484.1 959.4,1484.1 962.8,1484.1 966.3,1484.1 969.7,1484.1 973.2,1484.1 976.6,1484.1 980.1,1484.1 983.5,1484.1 987.0,1484.1 990.4,1484.1 993.9,1484.1 997.3,1484.1 1000.8,1484.1 1004.2,1484.1 1007.7,1484.1 1011.2,1484.1 1014.6,1484.1 1018.1,1484.1 1021.5,1484.1 1025.0,1484.1 1028.4,1484.1 1031.9,1484.1 1035.3,1484.1 1038.8,1484.1 1042.2,1484.1 1045.7,1484.1 1049.1,1484.1 1052.6,1484.1 1056.1,1484.1 1059.5,1484.1 1063.0,1484.1 1066.4,1484.1 1069.9,1484.1 1073.3,1484.1 1076.8,1484.1 1080.2,1484.1 1083.7,1484.1 1087.1,1484.1 1090.6,1484.1 1094.0,1484.1 1097.5,1484.1 1101.0,1484.1 1104.4,1484.1 1107.9,1484.1 1111.3,1484.1 1114.8,1484.1 1118.2,1484.1 1121.7,1484.1 1125.1,1484.1 1128.6,1484.1 1132.0,1484.1 1135.5,1484.1 1138.9,1484.1 1142.4,1484.1 1145.9,1484.1 1149.3,1484.1 1152.8,1484.1 1156.2,1484.1 1159.7,1484.1 1163.1,1484.1 1166.6,1484.1 1170.0,1484.1 1173.5,1484.1 1176.9,1484.1 1180.4,1484.1 1183.8,1484.1 1187.3,1484.1 1190.7,1484.1 1194.2,1484.1 1197.7,1484.1 1201.1,1484.1" fill="none" stroke="#00ff00" stroke-width="3.9" stroke-linejoin="round" stroke-linecap="round"/>
</g>
<text x="135.3" y="2120.6" text-anchor="end" class="tk" font-size="35.8">0</text>
<text x="135.3" y="1942.2" text-anchor="end" class="tk" font-size="35.8">20</text>
<text x="135.3" y="1763.8" text-anchor="end" class="tk" font-size="35.8">40</text>
<text x="135.3" y="1585.4" text-anchor="end" class="tk" font-size="35.8">60</text>
<text x="135.3" y="1407.0" text-anchor="end" class="tk" font-size="35.8">80</text>
<text x="135.3" y="1228.6" text-anchor="end" class="tk" font-size="35.8">100</text>
<text x="164.3" y="2167.5" text-anchor="middle" class="tk" font-size="35.8">0</text>
<text x="337.0" y="2167.5" text-anchor="middle" class="tk" font-size="35.8">5</text>
<text x="509.7" y="2167.5" text-anchor="middle" class="tk" font-size="35.8">10</text>
<text x="682.4" y="2167.5" text-anchor="middle" class="tk" font-size="35.8">15</text>
<text x="855.0" y="2167.5" text-anchor="middle" class="tk" font-size="35.8">20</text>
<text x="1027.7" y="2167.5" text-anchor="middle" class="tk" font-size="35.8">25</text>
<text x="1200.4" y="2167.5" text-anchor="middle" class="tk" font-size="35.8">30</text>
<text x="1373.1" y="2167.5" text-anchor="middle" class="tk" font-size="35.8">35</text>
<text x="694" y="2224.4" class="xl"><tspan font-style="italic">t</tspan> (min)</text>
<g transform="translate(49,1785) rotate(-90)" class="yl" font-size="45"><text x="-2.6" y="0" letter-spacing="0.4">100</text><text transform="translate(71.1,0) scale(0.93,1)">*</text><text transform="translate(87.2,0) scale(0.95,1)">(</text><text transform="translate(100.8,0) scale(0.94,1)" font-style="italic">C</text><text transform="translate(133.9,17) scale(1,1)">0</text><text transform="translate(159.9,0) scale(0.88,1)">-</text><text transform="translate(172.3,0) scale(0.94,1)" font-style="italic">C</text><text transform="translate(202.9,17) scale(1.08,1)">t</text><text transform="translate(219.8,0) scale(0.95,1)">)</text><text transform="translate(231.8,0) scale(1.05,1)">/</text><text transform="translate(243.6,0) scale(0.96,1)" font-style="italic">C</text><text transform="translate(276.7,17) scale(1,1)">0</text></g>
<rect x="435.8" y="1154.2" width="22.5" height="22.5" rx="1.2" fill="#000"/>
<text x="507.6" y="1179.4" class="lg">Na-R</text>
<circle cx="701.7" cy="1164.8" r="12.0" fill="#ff0000"/>
<text x="765.8" y="1179.4" class="lg">GC1-R</text>
<path d="M1004.2 1150.2 L1018.2 1174.7 L990.2 1174.7 Z" fill="#00ff00"/><path d="M1004.2 1150.2 L1018.2 1174.7 L990.2 1174.7 Z" fill="none" stroke="#00ff00" stroke-width="2" stroke-linejoin="round" style="mix-blend-mode:multiply"/>
<text x="1049.7" y="1179.4" class="lg">GC2-R</text>
<text x="1235.2" y="1248.3" class="tp" font-size="55" textLength="86.7" lengthAdjust="spacingAndGlyphs">308</text>
<text x="1329.0" y="1248.3" class="tp" font-size="55" textLength="37.1" lengthAdjust="spacingAndGlyphs">K</text>
<rect x="1326" y="1209" width="2" height="39.5" fill="#ffe600"/>
<path d="M170.6 2456.7 V3343.7" stroke="#000" stroke-width="3.8" fill="none"/>
<path d="M168.7 3341.8 H1371.0" stroke="#000" stroke-width="3.8" fill="none"/>
<path d="M170.6 3341.8 h-18.5 M170.6 3253.5 h-10.0 M170.6 3165.2 h-18.5 M170.6 3076.8 h-10.0 M170.6 2988.5 h-18.5 M170.6 2900.2 h-10.0 M170.6 2811.9 h-18.5 M170.6 2723.6 h-10.0 M170.6 2635.2 h-18.5 M170.6 2546.9 h-10.0 M170.6 2458.6 h-18.5 M170.6 3341.8 v18.6 M256.2 3341.8 v9.7 M341.8 3341.8 v18.6 M427.4 3341.8 v9.7 M513.0 3341.8 v18.6 M598.6 3341.8 v9.7 M684.2 3341.8 v18.6 M769.9 3341.8 v9.7 M855.5 3341.8 v18.6 M941.1 3341.8 v9.7 M1026.7 3341.8 v18.6 M1112.3 3341.8 v9.7 M1197.9 3341.8 v18.6 M1283.5 3341.8 v9.7 M1369.1 3341.8 v18.6 " stroke="#000" stroke-width="3.8" fill="none"/>
<clipPath id="c3"><rect x="168.5" y="2418.6" width="1300" height="925.3"/></clipPath><g clip-path="url(#c3)">
<rect x="159.6" y="3330.3" width="22.0" height="22.0" rx="1.2" fill="#000"/>
<rect x="262.5" y="2920.4" width="21.5" height="21.5" rx="1.2" fill="#000"/>
<rect x="330.6" y="2877.9" width="22.0" height="22.0" rx="1.2" fill="#000"/>
<rect x="433.3" y="2741.6" width="22.0" height="22.0" rx="1.2" fill="#000"/>
<rect x="605.3" y="2732.3" width="20.0" height="20.0" rx="1.2" fill="#000"/>
<rect x="672.8" y="2676.1" width="22.0" height="22.0" rx="1.2" fill="#000"/>
<rect x="843.8" y="2660.6" width="22.0" height="22.0" rx="1.2" fill="#000"/>
<rect x="1014.8" y="2663.3" width="22.0" height="22.0" rx="1.2" fill="#000"/>
<rect x="1186.6" y="2651.6" width="20.5" height="20.5" rx="1.2" fill="#000"/>
<circle cx="170.6" cy="3341.3" r="12.3" fill="#ff0000"/>
<circle cx="273.2" cy="2717.5" r="12.3" fill="#ff0000"/>
<circle cx="341.6" cy="2677.8" r="12.3" fill="#ff0000"/>
<circle cx="444.3" cy="2670.7" r="12.3" fill="#ff0000"/>
<circle cx="615.3" cy="2608.0" r="12.3" fill="#ff0000"/>
<circle cx="683.8" cy="2571.8" r="12.3" fill="#ff0000"/>
<circle cx="854.8" cy="2555.9" r="12.3" fill="#ff0000"/>
<circle cx="1025.8" cy="2560.3" r="12.3" fill="#ff0000"/>
<circle cx="1196.9" cy="2555.9" r="12.3" fill="#ff0000"/>
<path d="M170.6 3326.1 L184.3 3348.6 L156.8 3348.6 Z" fill="#00ff00"/><path d="M170.6 3326.1 L184.3 3348.6 L156.8 3348.6 Z" fill="none" stroke="#00ff00" stroke-width="2" stroke-linejoin="round" style="mix-blend-mode:multiply"/>
<path d="M273.2 2728.4 L287.0 2750.9 L259.5 2750.9 Z" fill="#00ff00"/><path d="M273.2 2728.4 L287.0 2750.9 L259.5 2750.9 Z" fill="none" stroke="#00ff00" stroke-width="2" stroke-linejoin="round" style="mix-blend-mode:multiply"/>
<path d="M341.6 2724.0 L355.4 2746.5 L327.9 2746.5 Z" fill="#00ff00"/><path d="M341.6 2724.0 L355.4 2746.5 L327.9 2746.5 Z" fill="none" stroke="#00ff00" stroke-width="2" stroke-linejoin="round" style="mix-blend-mode:multiply"/>
<path d="M444.3 2693.0 L458.0 2715.5 L430.5 2715.5 Z" fill="#00ff00"/><path d="M444.3 2693.0 L458.0 2715.5 L430.5 2715.5 Z" fill="none" stroke="#00ff00" stroke-width="2" stroke-linejoin="round" style="mix-blend-mode:multiply"/>
<path d="M615.3 2651.5 L629.1 2674.0 L601.6 2674.0 Z" fill="#00ff00"/><path d="M615.3 2651.5 L629.1 2674.0 L601.6 2674.0 Z" fill="none" stroke="#00ff00" stroke-width="2" stroke-linejoin="round" style="mix-blend-mode:multiply"/>
<path d="M683.8 2601.2 L697.5 2623.7 L670.0 2623.7 Z" fill="#00ff00"/><path d="M683.8 2601.2 L697.5 2623.7 L670.0 2623.7 Z" fill="none" stroke="#00ff00" stroke-width="2" stroke-linejoin="round" style="mix-blend-mode:multiply"/>
<path d="M854.8 2667.4 L868.6 2689.9 L841.1 2689.9 Z" fill="#00ff00"/><path d="M854.8 2667.4 L868.6 2689.9 L841.1 2689.9 Z" fill="none" stroke="#00ff00" stroke-width="2" stroke-linejoin="round" style="mix-blend-mode:multiply"/>
<path d="M1025.8 2601.2 L1039.6 2623.7 L1012.1 2623.7 Z" fill="#00ff00"/><path d="M1025.8 2601.2 L1039.6 2623.7 L1012.1 2623.7 Z" fill="none" stroke="#00ff00" stroke-width="2" stroke-linejoin="round" style="mix-blend-mode:multiply"/>
<path d="M1196.9 2554.3 L1210.6 2576.8 L1183.1 2576.8 Z" fill="#00ff00"/><path d="M1196.9 2554.3 L1210.6 2576.8 L1183.1 2576.8 Z" fill="none" stroke="#00ff00" stroke-width="2" stroke-linejoin="round" style="mix-blend-mode:multiply"/>
</g>
<g style="mix-blend-mode:multiply">
<polyline points="170.6,3341.3 174.0,3323.8 177.4,3306.8 180.9,3290.2 184.3,3274.0 187.7,3258.3 191.1,3243.0 194.5,3228.1 198.0,3213.6 201.4,3199.5 204.8,3185.7 208.2,3172.3 211.7,3159.3 215.1,3146.6 218.5,3134.3 221.9,3122.3 225.3,3110.5 228.8,3099.1 232.2,3088.1 235.6,3077.2 239.0,3066.7 242.4,3056.5 245.9,3046.5 249.3,3036.8 252.7,3027.4 256.1,3018.2 259.5,3009.2 263.0,3000.5 266.4,2992.0 269.8,2983.8 273.2,2975.7 276.7,2967.9 280.1,2960.3 283.5,2952.8 286.9,2945.6 290.3,2938.6 293.8,2931.7 297.2,2925.1 300.6,2918.6 304.0,2912.2 307.4,2906.1 310.9,2900.1 314.3,2894.3 317.7,2888.6 321.1,2883.1 324.5,2877.7 328.0,2872.4 331.4,2867.3 334.8,2862.4 338.2,2857.5 341.6,2852.8 345.1,2848.3 348.5,2843.8 351.9,2839.4 355.3,2835.2 358.8,2831.1 362.2,2827.1 365.6,2823.2 369.0,2819.4 372.4,2815.7 375.9,2812.1 379.3,2808.6 382.7,2805.2 386.1,2801.9 389.5,2798.6 393.0,2795.5 396.4,2792.4 399.8,2789.4 403.2,2786.5 406.6,2783.7 410.1,2780.9 413.5,2778.3 416.9,2775.6 420.3,2773.1 423.8,2770.6 427.2,2768.2 430.6,2765.9 434.0,2763.6 437.4,2761.4 440.9,2759.2 444.3,2757.1 447.7,2755.1 451.1,2753.1 454.5,2751.1 458.0,2749.2 461.4,2747.4 464.8,2745.6 468.2,2743.8 471.6,2742.1 475.1,2740.5 478.5,2738.9 481.9,2737.3 485.3,2735.8 488.8,2734.3 492.2,2732.8 495.6,2731.4 499.0,2730.1 502.4,2728.7 505.9,2727.4 509.3,2726.2 512.7,2724.9 516.1,2723.7 519.5,2722.6 523.0,2721.4 526.4,2720.3 529.8,2719.2 533.2,2718.2 536.6,2717.2 540.1,2716.2 543.5,2715.2 546.9,2714.3 550.3,2713.3 553.8,2712.5 557.2,2711.6 560.6,2710.7 564.0,2709.9 567.4,2709.1 570.9,2708.3 574.3,2707.6 577.7,2706.8 581.1,2706.1 584.5,2705.4 588.0,2704.7 591.4,2704.1 594.8,2703.4 598.2,2702.8 601.6,2702.2 605.1,2701.6 608.5,2701.0 611.9,2700.4 615.3,2699.9 618.8,2699.3 622.2,2698.8 625.6,2698.3 629.0,2697.8 632.4,2697.3 635.9,2696.8 639.3,2696.4 642.7,2695.9 646.1,2695.5 649.5,2695.1 653.0,2694.7 656.4,2694.3 659.8,2693.9 663.2,2693.5 666.6,2693.1 670.1,2692.8 673.5,2692.4 676.9,2692.1 680.3,2691.8 683.8,2691.4 687.2,2691.1 690.6,2690.8 694.0,2690.5 697.4,2690.2 700.9,2689.9 704.3,2689.7 707.7,2689.4 711.1,2689.1 714.5,2688.9 718.0,2688.6 721.4,2688.4 724.8,2688.2 728.2,2687.9 731.6,2687.7 735.1,2687.5 738.5,2687.3 741.9,2687.1 745.3,2686.9 748.7,2686.7 752.2,2686.5 755.6,2686.3 759.0,2686.1 762.4,2686.0 765.9,2685.8 769.3,2685.6 772.7,2685.5 776.1,2685.3 779.5,2685.2 783.0,2685.0 786.4,2684.9 789.8,2684.7 793.2,2684.6 796.6,2684.5 800.1,2684.3 803.5,2684.2 806.9,2684.1 810.3,2684.0 813.7,2683.8 817.2,2683.7 820.6,2683.6 824.0,2683.5 827.4,2683.4 830.9,2683.3 834.3,2683.2 837.7,2683.1 841.1,2683.0 844.5,2682.9 848.0,2682.8 851.4,2682.8 854.8,2682.7 858.2,2682.6 861.6,2682.5 865.1,2682.4 868.5,2682.4 871.9,2682.3 875.3,2682.2 878.7,2682.1 882.2,2682.1 885.6,2682.0 889.0,2681.9 892.4,2681.9 895.9,2681.8 899.3,2681.8 902.7,2681.7 906.1,2681.6 909.5,2681.6 913.0,2681.5 916.4,2681.5 919.8,2681.4 923.2,2681.4 926.6,2681.3 930.1,2681.3 933.5,2681.2 936.9,2681.2 940.3,2681.2 943.7,2681.1 947.2,2681.1 950.6,2681.0 954.0,2681.0 957.4,2681.0 960.9,2680.9 964.3,2680.9 967.7,2680.8 971.1,2680.8 974.5,2680.8 978.0,2680.7 981.4,2680.7 984.8,2680.7 988.2,2680.7 991.6,2680.6 995.1,2680.6 998.5,2680.6 1001.9,2680.5 1005.3,2680.5 1008.7,2680.5 1012.2,2680.5 1015.6,2680.4 1019.0,2680.4 1022.4,2680.4 1025.8,2680.4 1029.3,2680.4 1032.7,2680.3 1036.1,2680.3 1039.5,2680.3 1043.0,2680.3 1046.4,2680.3 1049.8,2680.2 1053.2,2680.2 1056.6,2680.2 1060.1,2680.2 1063.5,2680.2 1066.9,2680.1 1070.3,2680.1 1073.7,2680.1 1077.2,2680.1 1080.6,2680.1 1084.0,2680.1 1087.4,2680.1 1090.8,2680.0 1094.3,2680.0 1097.7,2680.0 1101.1,2680.0 1104.5,2680.0 1108.0,2680.0 1111.4,2680.0 1114.8,2680.0 1118.2,2680.0 1121.6,2679.9 1125.1,2679.9 1128.5,2679.9 1131.9,2679.9 1135.3,2679.9 1138.7,2679.9 1142.2,2679.9 1145.6,2679.9 1149.0,2679.9 1152.4,2679.9 1155.8,2679.9 1159.3,2679.8 1162.7,2679.8 1166.1,2679.8 1169.5,2679.8 1173.0,2679.8 1176.4,2679.8 1179.8,2679.8 1183.2,2679.8 1186.6,2679.8 1190.1,2679.8 1193.5,2679.8 1196.9,2679.8" fill="none" stroke="#000" stroke-width="3.9" stroke-linejoin="round" stroke-linecap="round"/>
<polyline points="170.6,3341.3 174.0,3303.9 177.4,3268.4 180.9,3234.6 184.3,3202.5 187.7,3172.0 191.1,3143.0 194.5,3115.4 198.0,3089.2 201.4,3064.3 204.8,3040.7 208.2,3018.2 211.7,2996.8 215.1,2976.5 218.5,2957.2 221.9,2938.8 225.3,2921.4 228.8,2904.8 232.2,2889.0 235.6,2874.0 239.0,2859.8 242.4,2846.2 245.9,2833.4 249.3,2821.2 252.7,2809.5 256.1,2798.5 259.5,2788.0 263.0,2778.0 266.4,2768.5 269.8,2759.5 273.2,2750.9 276.7,2742.8 280.1,2735.1 283.5,2727.7 286.9,2720.7 290.3,2714.1 293.8,2707.7 297.2,2701.7 300.6,2696.0 304.0,2690.6 307.4,2685.5 310.9,2680.6 314.3,2675.9 317.7,2671.5 321.1,2667.3 324.5,2663.3 328.0,2659.5 331.4,2655.9 334.8,2652.4 338.2,2649.2 341.6,2646.1 345.1,2643.1 348.5,2640.3 351.9,2637.6 355.3,2635.1 358.8,2632.7 362.2,2630.4 365.6,2628.2 369.0,2626.2 372.4,2624.2 375.9,2622.3 379.3,2620.6 382.7,2618.9 386.1,2617.3 389.5,2615.8 393.0,2614.3 396.4,2612.9 399.8,2611.6 403.2,2610.4 406.6,2609.2 410.1,2608.1 413.5,2607.0 416.9,2606.0 420.3,2605.0 423.8,2604.1 427.2,2603.2 430.6,2602.4 434.0,2601.6 437.4,2600.9 440.9,2600.2 444.3,2599.5 447.7,2598.9 451.1,2598.2 454.5,2597.7 458.0,2597.1 461.4,2596.6 464.8,2596.1 468.2,2595.6 471.6,2595.2 475.1,2594.7 478.5,2594.3 481.9,2593.9 485.3,2593.6 488.8,2593.2 492.2,2592.9 495.6,2592.6 499.0,2592.3 502.4,2592.0 505.9,2591.7 509.3,2591.5 512.7,2591.2 516.1,2591.0 519.5,2590.8 523.0,2590.6 526.4,2590.4 529.8,2590.2 533.2,2590.0 536.6,2589.8 540.1,2589.7 543.5,2589.5 546.9,2589.4 550.3,2589.2 553.8,2589.1 557.2,2589.0 560.6,2588.8 564.0,2588.7 567.4,2588.6 570.9,2588.5 574.3,2588.4 577.7,2588.3 581.1,2588.2 584.5,2588.1 588.0,2588.1 591.4,2588.0 594.8,2587.9 598.2,2587.8 601.6,2587.8 605.1,2587.7 608.5,2587.7 611.9,2587.6 615.3,2587.5 618.8,2587.5 622.2,2587.4 625.6,2587.4 629.0,2587.4 632.4,2587.3 635.9,2587.3 639.3,2587.2 642.7,2587.2 646.1,2587.2 649.5,2587.1 653.0,2587.1 656.4,2587.1 659.8,2587.1 663.2,2587.0 666.6,2587.0 670.1,2587.0 673.5,2587.0 676.9,2586.9 680.3,2586.9 683.8,2586.9 687.2,2586.9 690.6,2586.9 694.0,2586.8 697.4,2586.8 700.9,2586.8 704.3,2586.8 707.7,2586.8 711.1,2586.8 714.5,2586.8 718.0,2586.7 721.4,2586.7 724.8,2586.7 728.2,2586.7 731.6,2586.7 735.1,2586.7 738.5,2586.7 741.9,2586.7 745.3,2586.7 748.7,2586.7 752.2,2586.7 755.6,2586.7 759.0,2586.6 762.4,2586.6 765.9,2586.6 769.3,2586.6 772.7,2586.6 776.1,2586.6 779.5,2586.6 783.0,2586.6 786.4,2586.6 789.8,2586.6 793.2,2586.6 796.6,2586.6 800.1,2586.6 803.5,2586.6 806.9,2586.6 810.3,2586.6 813.7,2586.6 817.2,2586.6 820.6,2586.6 824.0,2586.6 827.4,2586.6 830.9,2586.6 834.3,2586.6 837.7,2586.6 841.1,2586.6 844.5,2586.6 848.0,2586.6 851.4,2586.6 854.8,2586.6 858.2,2586.6 861.6,2586.6 865.1,2586.6 868.5,2586.5 871.9,2586.5 875.3,2586.5 878.7,2586.5 882.2,2586.5 885.6,2586.5 889.0,2586.5 892.4,2586.5 895.9,2586.5 899.3,2586.5 902.7,2586.5 906.1,2586.5 909.5,2586.5 913.0,2586.5 916.4,2586.5 919.8,2586.5 923.2,2586.5 926.6,2586.5 930.1,2586.5 933.5,2586.5 936.9,2586.5 940.3,2586.5 943.7,2586.5 947.2,2586.5 950.6,2586.5 954.0,2586.5 957.4,2586.5 960.9,2586.5 964.3,2586.5 967.7,2586.5 971.1,2586.5 974.5,2586.5 978.0,2586.5 981.4,2586.5 984.8,2586.5 988.2,2586.5 991.6,2586.5 995.1,2586.5 998.5,2586.5 1001.9,2586.5 1005.3,2586.5 1008.7,2586.5 1012.2,2586.5 1015.6,2586.5 1019.0,2586.5 1022.4,2586.5 1025.8,2586.5 1029.3,2586.5 1032.7,2586.5 1036.1,2586.5 1039.5,2586.5 1043.0,2586.5 1046.4,2586.5 1049.8,2586.5 1053.2,2586.5 1056.6,2586.5 1060.1,2586.5 1063.5,2586.5 1066.9,2586.5 1070.3,2586.5 1073.7,2586.5 1077.2,2586.5 1080.6,2586.5 1084.0,2586.5 1087.4,2586.5 1090.8,2586.5 1094.3,2586.5 1097.7,2586.5 1101.1,2586.5 1104.5,2586.5 1108.0,2586.5 1111.4,2586.5 1114.8,2586.5 1118.2,2586.5 1121.6,2586.5 1125.1,2586.5 1128.5,2586.5 1131.9,2586.5 1135.3,2586.5 1138.7,2586.5 1142.2,2586.5 1145.6,2586.5 1149.0,2586.5 1152.4,2586.5 1155.8,2586.5 1159.3,2586.5 1162.7,2586.5 1166.1,2586.5 1169.5,2586.5 1173.0,2586.5 1176.4,2586.5 1179.8,2586.5 1183.2,2586.5 1186.6,2586.5 1190.1,2586.5 1193.5,2586.5 1196.9,2586.5" fill="none" stroke="#ff0000" stroke-width="3.9" stroke-linejoin="round" stroke-linecap="round"/>
<polyline points="170.6,3341.3 174.0,3304.0 177.4,3268.8 180.9,3235.4 184.3,3203.8 187.7,3173.9 191.1,3145.6 194.5,3118.8 198.0,3093.5 201.4,3069.5 204.8,3046.8 208.2,3025.3 211.7,3004.9 215.1,2985.7 218.5,2967.5 221.9,2950.2 225.3,2933.9 228.8,2918.4 232.2,2903.8 235.6,2889.9 239.0,2876.8 242.4,2864.4 245.9,2852.7 249.3,2841.6 252.7,2831.1 256.1,2821.1 259.5,2811.7 263.0,2802.8 266.4,2794.4 269.8,2786.4 273.2,2778.8 276.7,2771.7 280.1,2764.9 283.5,2758.5 286.9,2752.4 290.3,2746.7 293.8,2741.2 297.2,2736.1 300.6,2731.2 304.0,2726.6 307.4,2722.2 310.9,2718.1 314.3,2714.2 317.7,2710.5 321.1,2707.0 324.5,2703.7 328.0,2700.6 331.4,2697.6 334.8,2694.8 338.2,2692.1 341.6,2689.6 345.1,2687.2 348.5,2685.0 351.9,2682.8 355.3,2680.8 358.8,2678.9 362.2,2677.1 365.6,2675.4 369.0,2673.8 372.4,2672.2 375.9,2670.8 379.3,2669.4 382.7,2668.1 386.1,2666.9 389.5,2665.7 393.0,2664.6 396.4,2663.6 399.8,2662.6 403.2,2661.6 406.6,2660.8 410.1,2659.9 413.5,2659.1 416.9,2658.4 420.3,2657.7 423.8,2657.0 427.2,2656.4 430.6,2655.8 434.0,2655.2 437.4,2654.6 440.9,2654.1 444.3,2653.6 447.7,2653.2 451.1,2652.8 454.5,2652.3 458.0,2652.0 461.4,2651.6 464.8,2651.2 468.2,2650.9 471.6,2650.6 475.1,2650.3 478.5,2650.0 481.9,2649.8 485.3,2649.5 488.8,2649.3 492.2,2649.1 495.6,2648.8 499.0,2648.6 502.4,2648.5 505.9,2648.3 509.3,2648.1 512.7,2647.9 516.1,2647.8 519.5,2647.7 523.0,2647.5 526.4,2647.4 529.8,2647.3 533.2,2647.1 536.6,2647.0 540.1,2646.9 543.5,2646.8 546.9,2646.7 550.3,2646.7 553.8,2646.6 557.2,2646.5 560.6,2646.4 564.0,2646.3 567.4,2646.3 570.9,2646.2 574.3,2646.2 577.7,2646.1 581.1,2646.0 584.5,2646.0 588.0,2646.0 591.4,2645.9 594.8,2645.9 598.2,2645.8 601.6,2645.8 605.1,2645.7 608.5,2645.7 611.9,2645.7 615.3,2645.6 618.8,2645.6 622.2,2645.6 625.6,2645.6 629.0,2645.5 632.4,2645.5 635.9,2645.5 639.3,2645.5 642.7,2645.5 646.1,2645.4 649.5,2645.4 653.0,2645.4 656.4,2645.4 659.8,2645.4 663.2,2645.4 666.6,2645.3 670.1,2645.3 673.5,2645.3 676.9,2645.3 680.3,2645.3 683.8,2645.3 687.2,2645.3 690.6,2645.3 694.0,2645.3 697.4,2645.2 700.9,2645.2 704.3,2645.2 707.7,2645.2 711.1,2645.2 714.5,2645.2 718.0,2645.2 721.4,2645.2 724.8,2645.2 728.2,2645.2 731.6,2645.2 735.1,2645.2 738.5,2645.2 741.9,2645.2 745.3,2645.2 748.7,2645.2 752.2,2645.2 755.6,2645.2 759.0,2645.2 762.4,2645.2 765.9,2645.2 769.3,2645.1 772.7,2645.1 776.1,2645.1 779.5,2645.1 783.0,2645.1 786.4,2645.1 789.8,2645.1 793.2,2645.1 796.6,2645.1 800.1,2645.1 803.5,2645.1 806.9,2645.1 810.3,2645.1 813.7,2645.1 817.2,2645.1 820.6,2645.1 824.0,2645.1 827.4,2645.1 830.9,2645.1 834.3,2645.1 837.7,2645.1 841.1,2645.1 844.5,2645.1 848.0,2645.1 851.4,2645.1 854.8,2645.1 858.2,2645.1 861.6,2645.1 865.1,2645.1 868.5,2645.1 871.9,2645.1 875.3,2645.1 878.7,2645.1 882.2,2645.1 885.6,2645.1 889.0,2645.1 892.4,2645.1 895.9,2645.1 899.3,2645.1 902.7,2645.1 906.1,2645.1 909.5,2645.1 913.0,2645.1 916.4,2645.1 919.8,2645.1 923.2,2645.1 926.6,2645.1 930.1,2645.1 933.5,2645.1 936.9,2645.1 940.3,2645.1 943.7,2645.1 947.2,2645.1 950.6,2645.1 954.0,2645.1 957.4,2645.1 960.9,2645.1 964.3,2645.1 967.7,2645.1 971.1,2645.1 974.5,2645.1 978.0,2645.1 981.4,2645.1 984.8,2645.1 988.2,2645.1 991.6,2645.1 995.1,2645.1 998.5,2645.1 1001.9,2645.1 1005.3,2645.1 1008.7,2645.1 1012.2,2645.1 1015.6,2645.1 1019.0,2645.1 1022.4,2645.1 1025.8,2645.1 1029.3,2645.1 1032.7,2645.1 1036.1,2645.1 1039.5,2645.1 1043.0,2645.1 1046.4,2645.1 1049.8,2645.1 1053.2,2645.1 1056.6,2645.1 1060.1,2645.1 1063.5,2645.1 1066.9,2645.1 1070.3,2645.1 1073.7,2645.1 1077.2,2645.1 1080.6,2645.1 1084.0,2645.1 1087.4,2645.1 1090.8,2645.1 1094.3,2645.1 1097.7,2645.1 1101.1,2645.1 1104.5,2645.1 1108.0,2645.1 1111.4,2645.1 1114.8,2645.1 1118.2,2645.1 1121.6,2645.1 1125.1,2645.1 1128.5,2645.1 1131.9,2645.1 1135.3,2645.1 1138.7,2645.1 1142.2,2645.1 1145.6,2645.1 1149.0,2645.1 1152.4,2645.1 1155.8,2645.1 1159.3,2645.1 1162.7,2645.1 1166.1,2645.1 1169.5,2645.1 1173.0,2645.1 1176.4,2645.1 1179.8,2645.1 1183.2,2645.1 1186.6,2645.1 1190.1,2645.1 1193.5,2645.1 1196.9,2645.1" fill="none" stroke="#00ff00" stroke-width="3.9" stroke-linejoin="round" stroke-linecap="round"/>
</g>
<text x="142.1" y="3350.9" text-anchor="end" class="tk" font-size="35.8">0</text>
<text x="142.1" y="3174.3" text-anchor="end" class="tk" font-size="35.8">20</text>
<text x="142.1" y="2997.6" text-anchor="end" class="tk" font-size="35.8">40</text>
<text x="142.1" y="2821.0" text-anchor="end" class="tk" font-size="35.8">60</text>
<text x="142.1" y="2644.3" text-anchor="end" class="tk" font-size="35.8">80</text>
<text x="142.1" y="2467.7" text-anchor="end" class="tk" font-size="35.8">100</text>
<text x="170.6" y="3398.8" text-anchor="middle" class="tk" font-size="35.8">0</text>
<text x="341.8" y="3398.8" text-anchor="middle" class="tk" font-size="35.8">5</text>
<text x="513.0" y="3398.8" text-anchor="middle" class="tk" font-size="35.8">10</text>
<text x="684.2" y="3398.8" text-anchor="middle" class="tk" font-size="35.8">15</text>
<text x="855.5" y="3398.8" text-anchor="middle" class="tk" font-size="35.8">20</text>
<text x="1026.7" y="3398.8" text-anchor="middle" class="tk" font-size="35.8">25</text>
<text x="1197.9" y="3398.8" text-anchor="middle" class="tk" font-size="35.8">30</text>
<text x="1369.1" y="3398.8" text-anchor="middle" class="tk" font-size="35.8">35</text>
<text x="693.3" y="3453.5" class="xl"><tspan font-style="italic">t</tspan> (min)</text>
<g transform="translate(36.0,3019.5) rotate(-90)" class="yl" font-size="45"><text x="-2.6" y="0" letter-spacing="0.4">100</text><text transform="translate(71.1,0) scale(0.93,1)">*</text><text transform="translate(87.2,0) scale(0.95,1)">(</text><text transform="translate(100.8,0) scale(0.94,1)" font-style="italic">C</text><text transform="translate(133.9,17) scale(1,1)">0</text><text transform="translate(159.9,0) scale(0.88,1)">-</text><text transform="translate(172.3,0) scale(0.94,1)" font-style="italic">C</text><text transform="translate(202.9,17) scale(1.08,1)">t</text><text transform="translate(219.8,0) scale(0.95,1)">)</text><text transform="translate(231.8,0) scale(1.05,1)">/</text><text transform="translate(243.6,0) scale(0.96,1)" font-style="italic">C</text><text transform="translate(276.7,17) scale(1,1)">0</text></g>
<rect x="323.9" y="2370.2" width="22.5" height="22.5" rx="1.2" fill="#000"/>
<text x="395.2" y="2395.4" class="lg">Na-R</text>
<circle cx="588.2" cy="2380.8" r="12.0" fill="#ff0000"/>
<text x="652.0" y="2395.4" class="lg">GC1-R</text>
<path d="M887.7 2366.2 L901.7 2390.7 L873.7 2390.7 Z" fill="#00ff00"/><path d="M887.7 2366.2 L901.7 2390.7 L873.7 2390.7 Z" fill="none" stroke="#00ff00" stroke-width="2" stroke-linejoin="round" style="mix-blend-mode:multiply"/>
<text x="935.0" y="2395.4" class="lg">GC2-R</text>
<text x="1184.2" y="2448.0" class="tp" font-size="49" textLength="121.9" lengthAdjust="spacingAndGlyphs">318K</text>
</svg>
</body></html>
